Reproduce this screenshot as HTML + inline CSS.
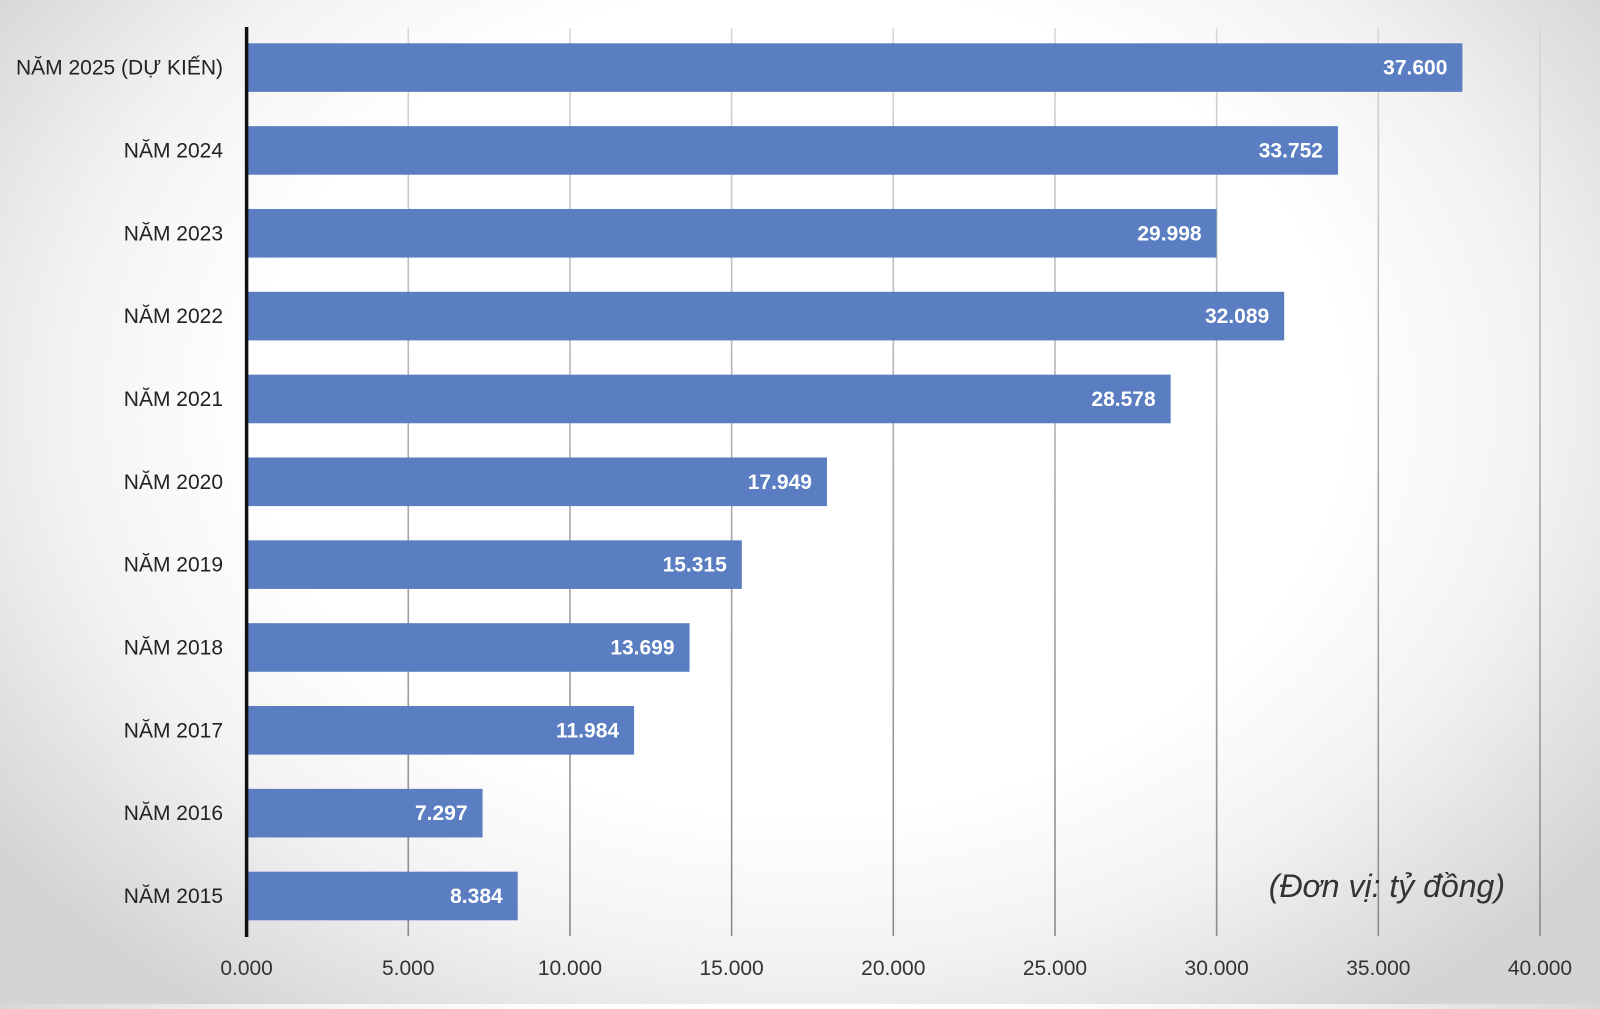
<!DOCTYPE html>
<html><head><meta charset="utf-8"><style>
html,body{margin:0;padding:0}
body{width:1600px;height:1004px;overflow:hidden;background:radial-gradient(ellipse 62% 75% at 50% 40%,#ffffff 55%,#f2f2f2 75%,#d4d4d4 100%);font-family:"Liberation Sans",sans-serif}
</style></head><body>
<svg id="chart" width="1600" height="1004" xmlns="http://www.w3.org/2000/svg">
<defs><linearGradient id="gg" x1="0" y1="28" x2="0" y2="936" gradientUnits="userSpaceOnUse"><stop offset="0" stop-color="#d8d8d8"/><stop offset="0.5" stop-color="#aaaaaa"/><stop offset="1" stop-color="#8a8a8a"/></linearGradient></defs>
</svg>
<script>
const categories=["NĂM 2025 (DỰ KIẾN)","NĂM 2024","NĂM 2023","NĂM 2022","NĂM 2021","NĂM 2020","NĂM 2019","NĂM 2018","NĂM 2017","NĂM 2016","NĂM 2015"];
const values=[37600,33752,29998,32089,28578,17949,15315,13699,11984,7297,8384];
const valueLabels=["37.600","33.752","29.998","32.089","28.578","17.949","15.315","13.699","11.984","7.297","8.384"];
const ticks=[0,5000,10000,15000,20000,25000,30000,35000,40000];
const tickLabels=["0.000","5.000","10.000","15.000","20.000","25.000","30.000","35.000","40.000"];

const svg=document.getElementById('chart');
const NS="http://www.w3.org/2000/svg";
const x0=246.6,x1=1540,maxV=40000;
const xs=v=>x0+(v/maxV)*(x1-x0);
const top0=43.3,pitch=82.84,bh=48.6;
const ys=i=>top0+i*pitch;
function mk(t,a){const e=document.createElementNS(NS,t);for(const k in a)e.setAttribute(k,a[k]);svg.appendChild(e);return e;}

ticks.forEach((t,i)=>{
  if(i>0){
    const l=mk('line',{x1:xs(t),x2:xs(t),y1:28,y2:936,stroke:'url(#gg)','stroke-width':1.6});
    
    
  }
  const tx=mk('text',{x:xs(t),y:975,'text-anchor':'middle','font-size':21,fill:'#333'});
  tx.textContent=tickLabels[i];
  
  
});

categories.forEach((c,i)=>{
  const y=ys(i);
  const r=mk('rect',{x:xs(0),y:y,width:xs(values[i])-xs(0),height:bh,fill:'#5a7ec1'});
  
  
  const v=mk('text',{x:xs(values[i])-15,y:y+bh/2+7,'text-anchor':'end','font-size':21,'font-weight':'bold',fill:'#fff'});
  v.textContent=valueLabels[i];
  
  
  const lb=mk('text',{x:223,y:y+bh/2+7,'text-anchor':'end','font-size':21,fill:'#222'});
  lb.textContent=c;
  
  
});

const ax=mk('line',{x1:x0,x2:x0,y1:27,y2:937,stroke:'#111','stroke-width':3.5});



const u=mk('text',{x:1505,y:897,'text-anchor':'end','font-size':32,'font-style':'italic',fill:'#333'});
u.textContent='(Đơn vị: tỷ đồng)';


</script>
</body></html>
